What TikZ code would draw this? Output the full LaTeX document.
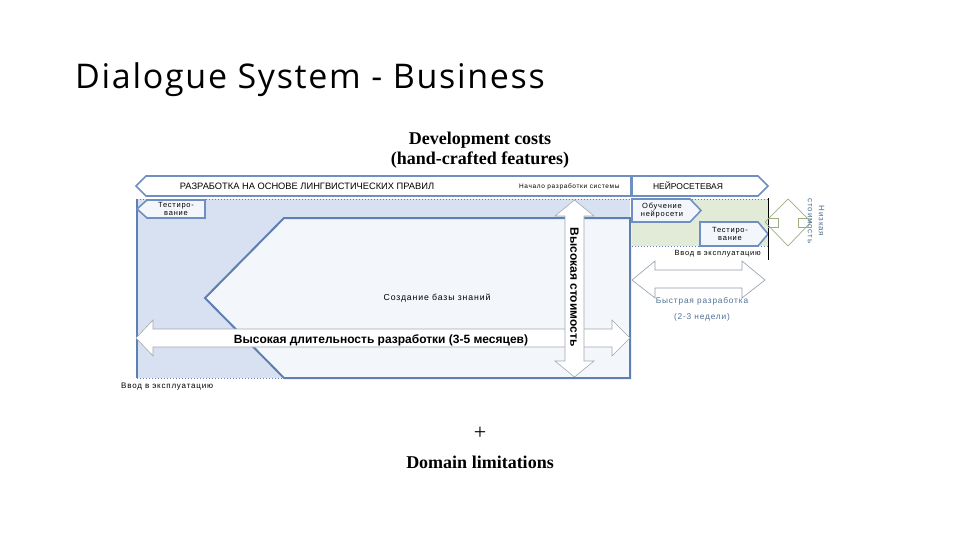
\documentclass[tikz,border=0pt]{standalone}
\usepackage{fontspec}
\setmainfont{Liberation Sans}
\newfontfamily\titlefont{Open Sans}[LetterSpace=5]
\newfontfamily\seriffont{Liberation Serif}
\newfontfamily\widefont{Liberation Sans}[LetterSpace=10]
\usetikzlibrary{positioning}

\definecolor{bandblue}{HTML}{D7E1F2}
\definecolor{paleblue}{HTML}{F3F6FB}
\definecolor{edgeblue}{HTML}{5E7FB2}
\definecolor{boxedge}{HTML}{6F8FC2}
\definecolor{palegreen}{HTML}{E2EAD8}
\definecolor{olivegreen}{HTML}{9AAE80}
\definecolor{arrowgray}{HTML}{A3A7AD}
\definecolor{textblue}{HTML}{4F6F93}

\begin{document}
\begin{tikzpicture}[x=1pt,y=-1pt,
    stagebox/.style={fill=paleblue,draw=boxedge,line width=1.6pt,line join=miter},
    fatarrow/.style={fill=white,draw=arrowgray,line width=0.6pt},
    tiny/.style={font=\widefont\fontsize{7.5}{8}\selectfont,align=center,inner sep=0pt}]

    \useasboundingbox (0,0) rectangle (960,540);

    % --- headings ---
    \node[anchor=base west,font=\titlefont\fontsize{34}{38}\selectfont,inner sep=0pt] (title) at (75,89) {Dialogue System - Business};
    \node[align=center,font=\seriffont\bfseries\fontsize{18}{20}\selectfont] (costs) at (480,150) {Development costs\\(hand-crafted features)};

    % --- rule based part ---
    \fill[bandblue] (137,199) rectangle (630,378);
    \draw[edgeblue,dotted,line width=1pt] (137,199) -- (630,199);
    \draw[edgeblue,dotted,line width=1pt] (137,378) -- (630,378);
    \draw[edgeblue,line width=1.2pt] (137,199) -- (137,378);
    \filldraw[fill=paleblue,draw=edgeblue,line width=2pt] (284,218) -- (630,218) -- (630,378) -- (284,378) -- (205,298) -- cycle;

    % banner
    \filldraw[stagebox,fill=white] (136,186) -- (146,176) -- (631,176) -- (631,196) -- (146,196) -- cycle;
    \node[font=\fontsize{9.3}{10}\selectfont] (rules) at (307,186) {РАЗРАБОТКА НА ОСНОВЕ ЛИНГВИСТИЧЕСКИХ ПРАВИЛ};
    \node[anchor=east,font=\widefont\fontsize{6.5}{7}\selectfont] (start) at (623,187) {Начало разработки системы};

    % testing (left)
    \filldraw[stagebox] (137,209) -- (147,200) -- (205,200) -- (205,218) -- (147,218) -- cycle;
    \node[tiny] (testleft) at (176,209) {Тестиро-\\вание};

    \node[font=\widefont\fontsize{8.7}{10}\selectfont] (kb) at (437,298) {Создание базы знаний};

    % long duration
    \filldraw[fatarrow] (136,338) -- (153,320) -- (153,329) -- (612,329) -- (612,320) -- (630,338)
        -- (612,356) -- (612,347) -- (153,347) -- (153,356) -- cycle;
    \node[font=\bfseries\fontsize{12}{14}\selectfont] (long) at (381,340) {Высокая длительность разработки (3-5 месяцев)};

    % high cost
    \filldraw[fatarrow] (574.5,200) -- (594,216) -- (584,216) -- (584,361) -- (594,361) -- (574.5,377)
        -- (555,361) -- (565,361) -- (565,216) -- (555,216) -- cycle;
    \node[rotate=-90,font=\bfseries\fontsize{12}{14}\selectfont] (highcost) at (574.5,287) {Высокая стоимость};

    \node[tiny,anchor=west,font=\widefont\fontsize{8}{9}\selectfont] (launchleft) at (121,387) {Ввод в эксплуатацию};

    % --- neural part ---
    \filldraw[stagebox,fill=white] (632,176) -- (758,176) -- (768,186) -- (758,196) -- (632,196) -- cycle;
    \node[font=\fontsize{8.5}{10}\selectfont] (neural) at (688,186) {НЕЙРОСЕТЕВАЯ};

    \fill[palegreen] (632,199) rectangle (768,246);
    \draw[edgeblue,dotted,line width=1pt] (632,199) -- (768,199);
    \draw[edgeblue,dotted,line width=1pt] (632,246) -- (768,246);

    \filldraw[stagebox] (632,199) -- (690,199) -- (701,210.5) -- (690,222) -- (632,222) -- cycle;
    \node[tiny] (train) at (662,210.5) {Обучение\\нейросети};
    \filldraw[stagebox] (700,222) -- (758,222) -- (768,234) -- (758,246) -- (700,246) -- cycle;
    \node[tiny] (testright) at (730,234) {Тестиро-\\вание};

    \draw[black,line width=1pt] (768,198) -- (768,260);
    \node[tiny,anchor=east] (launchright) at (761,254) {Ввод в эксплуатацию};

    % low cost
    \draw[olivegreen,line width=0.7pt] (765,222) -- (788,199) -- (811,222) -- (788,246) -- cycle;
    \draw[olivegreen,line width=0.7pt] (768,218) -- (778,218) -- (778,227) -- (768,227);
    \draw[olivegreen,line width=0.7pt] (808,218) -- (798,218) -- (798,227) -- (808,227);
    \node[rotate=-90,align=center,text=textblue,font=\widefont\fontsize{8}{11}\selectfont] (lowcost) at (816,221) {Низкая\\стоимость};

    % fast development
    \filldraw[fatarrow,draw=arrowgray!80!textblue] (632,280) -- (655,261) -- (655,270) -- (742,270) -- (742,261) -- (765,280)
        -- (742,298) -- (742,288) -- (655,288) -- (655,298) -- cycle;
    \node[align=center,text=textblue,font=\widefont\fontsize{8.3}{16}\selectfont] (fast) at (702,309) {Быстрая разработка\\(2-3 недели)};

    % --- domain ---
    \node[font=\seriffont\fontsize{22}{24}\selectfont] (plus) at (480,433) {+};
    \node[font=\seriffont\bfseries\fontsize{18}{20}\selectfont] (domain) at (480,462) {Domain limitations};

\end{tikzpicture}
\end{document}
